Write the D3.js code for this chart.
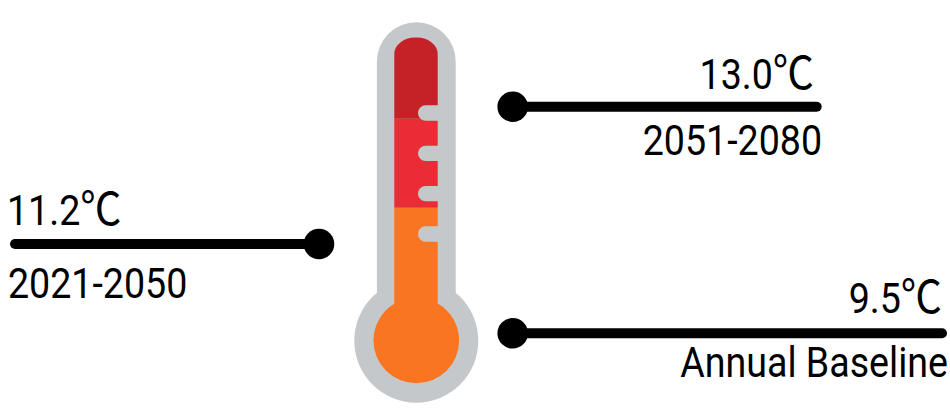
<!DOCTYPE html>
<html>
<head>
<meta charset="utf-8">
<script src="https://cdn.jsdelivr.net/npm/d3@7"></script>
<style>
html,body{margin:0;padding:0;background:#fff;overflow:hidden}
svg{display:block}
text{font-family:Roboto,"Noto Sans CJK SC",sans-serif;font-weight:400;fill:#000}
</style>
</head>
<body>
<svg id="chart" width="950" height="409"></svg>
<script>
const periods = ["Annual Baseline", "2021-2050", "2051-2080"];
const temps = [9.5, 11.2, 13.0];
const bandColors = ["#f97521", "#e92c35", "#c52228"];
const tickIndex = [0, 1, 2, 3];

const svg = d3.select("#chart");
const GRAY = "#c5c8cb";
const cx = 416.3;

const yBandTop = d3.scaleLinear().domain(temps).range([207.7, 118.7, 37.3]);
const yLeader = d3.scaleLinear().domain(temps).range([333.3, 244, 106.7]);
const yTick = d3.scaleLinear().domain([0, 3]).range([234, 113]);
const color = d3.scaleOrdinal().domain(temps).range(bandColors);

const shell = svg.append("g").attr("fill", GRAY);
shell.append("path").attr("d", () => {
  const p = d3.path(), r = 39.4, top = 22.3 + r;
  p.moveTo(cx - r, 345); p.lineTo(cx - r, top);
  p.arc(cx, top, r, Math.PI, 0); p.lineTo(cx + r, 345); p.closePath();
  return p.toString();
});
shell.append("circle").attr("cx", cx).attr("cy", 340.7).attr("r", 62);

const inL = 394.3, inR = 437.7, inTop = 37.3;
const innerPath = (() => {
  const rx = (inR - inL) / 2, ry = 16.5;
  return `M${inL},330 L${inL},${inTop + ry} A${rx},${ry} 0 0 1 ${inR},${inTop + ry} L${inR},330 Z`;
})();
const defs = svg.append("defs");
const clip = defs.append("clipPath").attr("id", "inner");
clip.append("path").attr("d", innerPath);
clip.append("circle").attr("cx", cx).attr("cy", 340.5).attr("r", 42.8);

const bottoms = temps.map((t, i) => i === 0 ? 390 : yBandTop(temps[i - 1]));
svg.append("g").attr("clip-path", "url(#inner)")
  .selectAll("rect").data(temps).join("rect")
  .attr("x", 370).attr("width", 95)
  .attr("y", d => yBandTop(d))
  .attr("height", (d, i) => bottoms[i] - yBandTop(d))
  .attr("fill", d => color(d));

const tickH = 15.4, tickL = 418;
svg.append("g").attr("fill", GRAY)
  .selectAll("path").data(tickIndex).join("path")
  .attr("d", d => {
    const y = yTick(d), r = tickH / 2, p = d3.path();
    p.moveTo(inR + 1, y - r); p.lineTo(tickL + r, y - r);
    p.arc(tickL + r, y, r, -Math.PI / 2, Math.PI / 2, true);
    p.lineTo(inR + 1, y + r); p.closePath();
    return p.toString();
  });

const fmt = d3.format(".1f");
const leaderDotX = d3.scaleOrdinal().domain(temps).range([512.7, 319, 512.7]);
const leaderEndX = d3.scaleOrdinal().domain(temps).range([942, 15, 816.7]);
const rows = temps.map((t, i) => ({ t, period: periods[i] }));

const g = svg.append("g").selectAll("g").data(rows).join("g");
g.append("line")
  .attr("x1", d => leaderDotX(d.t)).attr("x2", d => leaderEndX(d.t))
  .attr("y1", d => yLeader(d.t)).attr("y2", d => yLeader(d.t))
  .attr("stroke", "#000").attr("stroke-width", 10).attr("stroke-linecap", "round");
g.append("circle")
  .attr("cx", d => leaderDotX(d.t)).attr("cy", d => yLeader(d.t)).attr("r", 15.3)
  .attr("fill", "#000");

const K = 0.895, FS = 42;
const valueX = d3.scaleOrdinal().domain(temps).range([942, 7, 814]);
const valueBase = d3.scaleOrdinal().domain(temps).range([312.7, 225, 89]);
const periodX = d3.scaleOrdinal().domain(temps).range([948, 8, 822]);
const periodBase = d3.scaleOrdinal().domain(temps).range([376.5, 298, 155]);
const isLeft = d => leaderDotX(d.t) < cx;
const lab = (xs, ys) => g.append("text")
  .attr("transform", d => `translate(${xs(d.t)},${ys(d.t)}) scale(${K},1)`)
  .attr("text-anchor", d => isLeft(d) ? "start" : "end")
  .attr("font-size", FS);
const v = lab(valueX, valueBase);
v.append("tspan").text(d => fmt(d.t));
v.append("tspan").attr("font-size", 46).text("℃");
lab(periodX, periodBase).text(d => d.period);
</script>
</body>
</html>
